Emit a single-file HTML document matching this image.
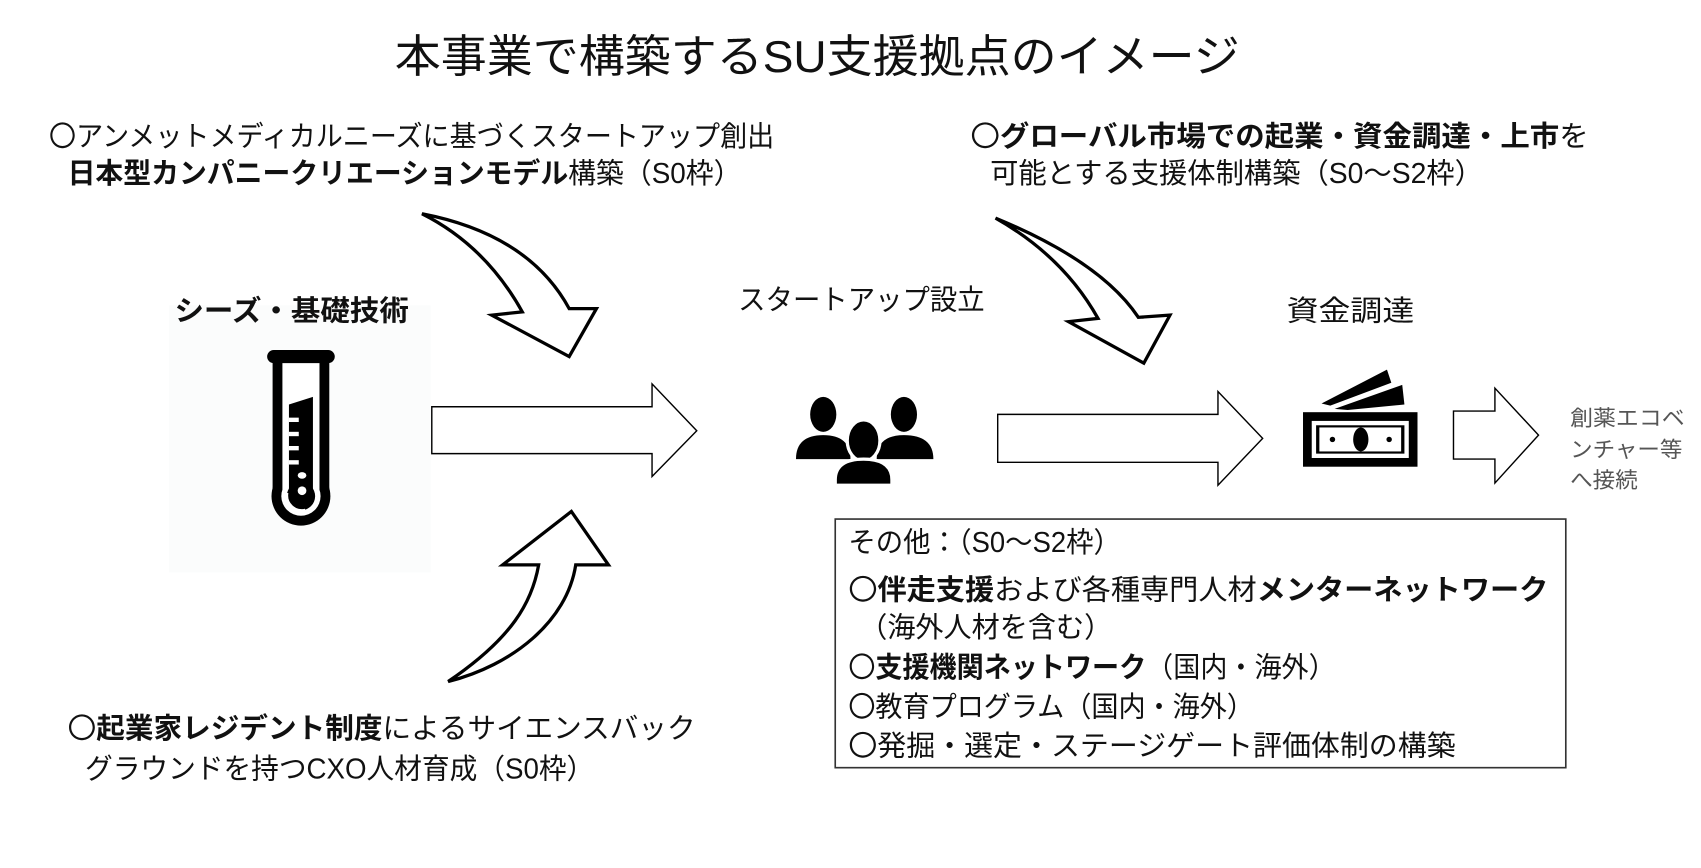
<!DOCTYPE html>
<html><head><meta charset="utf-8"><style>
html,body{margin:0;padding:0;background:#fff;}
svg{display:block;}
text{font-family:"Liberation Sans","Noto Sans CJK JP",sans-serif;fill:#111;}
.b{font-weight:bold;}
</style></head><body>
<svg width="1701" height="868" viewBox="0 0 1560 796" preserveAspectRatio="none" xmlns="http://www.w3.org/2000/svg">
<rect width="1560" height="796" fill="#fff"/>
<rect x="155" y="280" width="240" height="245" fill="#fbfcfc"/>
<text x="362" y="66" font-size="41" textLength="775" lengthAdjust="spacingAndGlyphs">本事業で構築するSU支援拠点のイメージ</text>

<text x="45" y="134" font-size="26" textLength="665" lengthAdjust="spacingAndGlyphs">〇アンメットメディカルニーズに基づくスタートアップ創出</text>
<text x="62" y="168" font-size="26" textLength="618" lengthAdjust="spacingAndGlyphs"><tspan class="b">日本型カンパニークリエーションモデル</tspan>構築（S0枠）</text>

<text x="890" y="134" font-size="26" textLength="567" lengthAdjust="spacingAndGlyphs">〇<tspan class="b">グローバル市場での起業・資金調達・上市</tspan>を</text>
<text x="908" y="168" font-size="26" textLength="452" lengthAdjust="spacingAndGlyphs">可能とする支援体制構築（S0～S2枠）</text>

<text x="160" y="294" font-size="26" class="b" textLength="215" lengthAdjust="spacingAndGlyphs">シーズ・基礎技術</text>
<text x="677" y="284" font-size="26" textLength="226" lengthAdjust="spacingAndGlyphs">スタートアップ設立</text>
<text x="1180" y="294" font-size="26" textLength="117" lengthAdjust="spacingAndGlyphs">資金調達</text>

<!-- test tube -->
<rect x="245" y="321" width="62" height="12" rx="6" fill="#000"/>
<rect x="250" y="330" width="52" height="125" fill="#000"/>
<circle cx="276" cy="455" r="27" fill="#000"/>
<rect x="259" y="333" width="34" height="122" fill="#fff"/>
<circle cx="276" cy="455" r="18" fill="#fff"/>
<polygon points="265,371 287,364 287,455 265,455" fill="#000"/>
<circle cx="276" cy="455" r="13" fill="#000"/>
<rect x="265" y="383" width="9" height="4" fill="#fff"/>
<rect x="265" y="396" width="9" height="4" fill="#fff"/>
<rect x="265" y="409" width="9" height="4" fill="#fff"/>
<rect x="265" y="422" width="9" height="4" fill="#fff"/>
<ellipse cx="277" cy="436" rx="4" ry="3" fill="#fff"/>
<circle cx="277" cy="450" r="4" fill="#fff"/>
<path d="M263,452 A14,14 0 0 0 280,468" stroke="#fff" stroke-width="3" fill="none"/>

<!-- straight arrows -->
<g fill="#fff" stroke="#000" stroke-width="1.3">
<polygon points="396,373 598,373 598,352 639,395 598,437 598,416 396,416"/>
<polygon points="915,380 1117,380 1117,359 1158,402 1117,445 1117,424 915,424"/>
<polygon points="1333,377 1371,377 1371,356 1411,399 1371,443 1371,421 1333,421"/>
</g>
<!-- curved arrows -->
<g fill="#fff" stroke="#000" stroke-width="3" stroke-linejoin="miter">
<path d="M387,196 Q485,215 522,283 L547,283 L522,327 L451,289 L479,286 Q445,225 387,196 Z"/>
<path d="M913,200 Q1010,240 1044,291 L1073,289 L1049,333 L980,295 L1007,292 Q975,235 913,200 Z"/>
<path d="M411,625 C470,585 488,552 494,518 L461,518 L524,469 L558,518 L528,518 C520,570 470,610 411,625 Z"/>
</g>

<!-- people -->
<g fill="#000">
<ellipse cx="755" cy="380" rx="12" ry="16"/>
<path d="M730,421 Q730,399 755,399 Q780,399 780,421 Z"/>
<ellipse cx="829" cy="380" rx="12" ry="16"/>
<path d="M804,421 Q804,399 829,399 Q856,399 856,421 Z"/>
<ellipse cx="792" cy="404" rx="15" ry="19" stroke="#fff" stroke-width="3"/>
<path d="M766,445 L766,440 Q766,421 792,421 Q818,421 818,440 L818,445 Z" stroke="#fff" stroke-width="3"/>
</g>
<!-- money -->
<g fill="#000">
<rect x="1195" y="378" width="105" height="50"/>
<rect x="1203" y="386" width="89" height="34" fill="#fff"/>
<rect x="1207" y="390" width="81" height="26" fill="#000"/>
<rect x="1210" y="392" width="75" height="22" fill="#fff"/>
<ellipse cx="1248" cy="403" rx="7" ry="11"/>
<circle cx="1222" cy="403" r="2.5"/>
<circle cx="1274" cy="403" r="2.5"/>
<polygon points="1212,370 1272,339 1276,351 1220,372"/>
<polygon points="1224,375 1286,353 1288,371 1236,376"/>
</g>

<text font-size="20" style="fill:#555">
<tspan x="1440" y="390" textLength="105" lengthAdjust="spacingAndGlyphs">創薬エコベ</tspan>
<tspan x="1440" y="419" textLength="103" lengthAdjust="spacingAndGlyphs">ンチャー等</tspan>
<tspan x="1440" y="447" textLength="62" lengthAdjust="spacingAndGlyphs">へ接続</tspan>
</text>

<rect x="766" y="476" width="670" height="228" fill="#fff" stroke="#333" stroke-width="1.5"/>
<text x="778" y="506" font-size="26" textLength="250" lengthAdjust="spacingAndGlyphs">その他：（S0～S2枠）</text>
<text x="778" y="550" font-size="26" textLength="642" lengthAdjust="spacingAndGlyphs">〇<tspan class="b">伴走支援</tspan>および各種専門人材<tspan class="b">メンターネットワーク</tspan></text>
<text x="788" y="584" font-size="26" textLength="232" lengthAdjust="spacingAndGlyphs">（海外人材を含む）</text>
<text x="778" y="621" font-size="26" textLength="447" lengthAdjust="spacingAndGlyphs">〇<tspan class="b">支援機関ネットワーク</tspan>（国内・海外）</text>
<text x="778" y="657" font-size="26" textLength="372" lengthAdjust="spacingAndGlyphs">〇教育プログラム（国内・海外）</text>
<text x="778" y="693" font-size="26" textLength="557" lengthAdjust="spacingAndGlyphs">〇発掘・選定・ステージゲート評価体制の構築</text>

<text x="62" y="677" font-size="26" textLength="576" lengthAdjust="spacingAndGlyphs">〇<tspan class="b">起業家レジデント制度</tspan>によるサイエンスバック</text>
<text x="78" y="714" font-size="26" textLength="467" lengthAdjust="spacingAndGlyphs">グラウンドを持つCXO人材育成（S0枠）</text>
</svg>
</body></html>
